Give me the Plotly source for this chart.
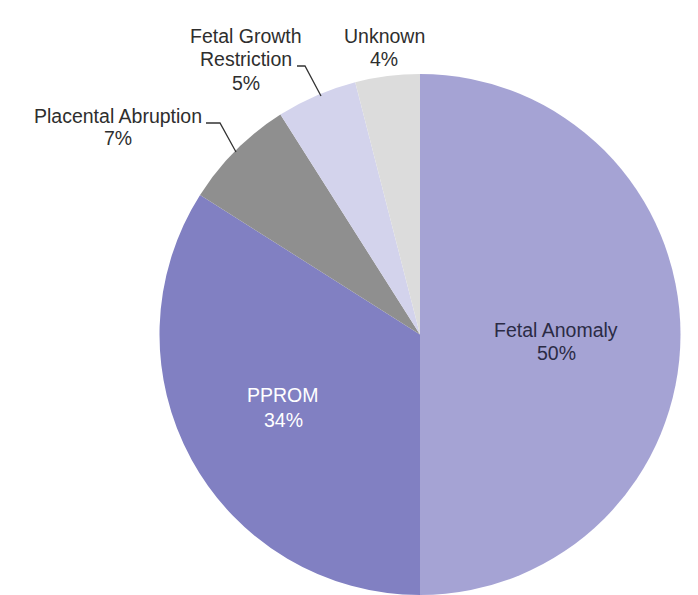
import plotly.graph_objects as go

# Causes, listed clockwise from 12 o'clock
causes = ["Fetal Anomaly", "PPROM", "Placental Abruption",
          "Fetal Growth Restriction", "Unknown"]
shares = [50, 34, 7, 5, 4]
label_lines = [["Fetal Anomaly"], ["PPROM"], ["Placental Abruption"],
               ["Fetal Growth", "Restriction"], ["Unknown"]]

colors = ["#a5a3d4", "#8180c2", "#8f8f8f", "#d3d3ec", "#dcdcdc"]
text_colors = ["#2b2b45", "#ffffff", "#2e2e2e", "#2e2e2e", "#2e2e2e"]

W, H = 698, 595
CX, TOP = 420, 74
R = (H - TOP) / 2.0
FONT = "Liberation Sans, Arial, sans-serif"
FSIZE = 19.5


def px(x):
    return x / W


def py(y):
    return 1 - y / H


fig = go.Figure(go.Pie(
    labels=causes,
    values=shares,
    sort=False,
    direction="clockwise",
    rotation=0,
    marker=dict(colors=colors, line=dict(width=0)),
    textinfo="none",
    hoverinfo="label+percent",
    domain=dict(x=[px(CX - R), px(CX + R)], y=[0, py(TOP)]),
    showlegend=False,
))

# Label centre x and baseline of each text line (pixels)
label_x = [556, 283, 118, 246, 384]
label_baselines = [[337, 360], [402, 427], [123, 145], [43, 66, 90], [43, 66]]

for lines, val, x, bases, tc in zip(label_lines, shares, label_x,
                                    label_baselines, text_colors):
    texts = lines + [f"{val}%"]
    for t, b in zip(texts, bases):
        fig.add_annotation(
            x=px(x), y=py(b - 7), xref="paper", yref="paper",
            text=t, showarrow=False,
            xanchor="center", yanchor="middle", align="center",
            font=dict(family=FONT, size=FSIZE, color=tc),
        )

# Leader lines for the small outside labels
leaders = [
    [(206, 123), (220, 123), (236, 152)],
    [(297, 66), (305, 66), (321, 96)],
]
for pts in leaders:
    path = "M " + " L ".join(f"{px(a):.5f},{py(b):.5f}" for a, b in pts)
    fig.add_shape(type="path", path=path, xref="paper", yref="paper",
                  line=dict(color="#333333", width=1.3))

fig.update_layout(
    width=W, height=H,
    margin=dict(l=0, r=0, t=0, b=0),
    paper_bgcolor="white",
    plot_bgcolor="white",
)

fig.write_html("out.html")
